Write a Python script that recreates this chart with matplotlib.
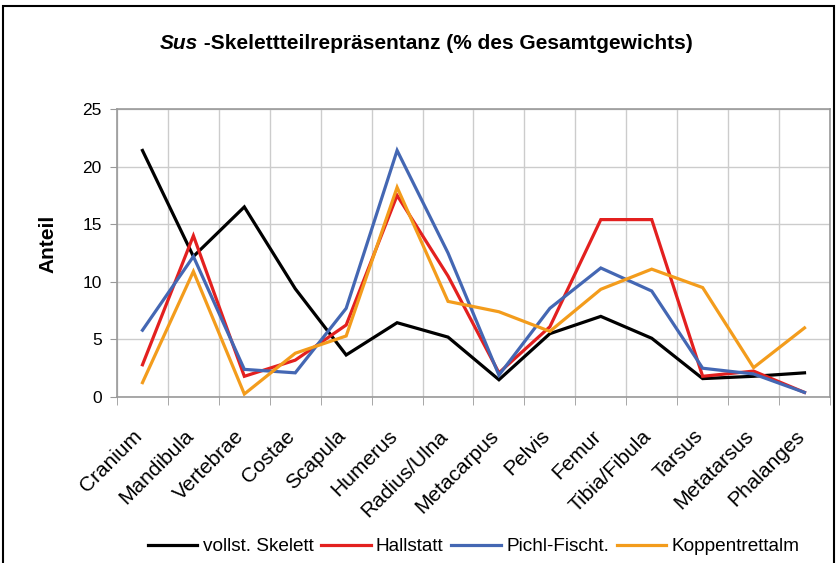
import numpy as np
import matplotlib.pyplot as plt
import matplotlib.transforms as mtransforms
from matplotlib.patches import Rectangle

plt.rcParams['font.family'] = ['Liberation Sans', 'DejaVu Sans']

# categories (skeletal elements)
parts = ["Cranium", "Mandibula", "Vertebrae", "Costae", "Scapula", "Humerus",
         "Radius/Ulna", "Metacarpus", "Pelvis", "Femur", "Tibia/Fibula",
         "Tarsus", "Metatarsus", "Phalanges"]

# share of total weight (%)
skelett = [21.4, 12.2, 16.5, 9.4, 3.65, 6.45, 5.2, 1.5, 5.5, 7.0, 5.1, 1.6, 1.8, 2.1]
hallstatt = [2.8, 14.0, 1.8, 3.2, 6.25, 17.5, 10.5, 2.1, 6.1, 15.4, 15.4, 1.8, 2.25, 0.4]
pichl = [5.8, 12.2, 2.4, 2.1, 7.7, 21.4, 12.5, 1.9, 7.7, 11.2, 9.2, 2.5, 2.0, 0.4]
koppen = [1.25, 10.9, 0.26, 3.8, 5.3, 18.2, 8.3, 7.4, 5.7, 9.35, 11.1, 9.5, 2.55, 6.0]

names = ["vollst. Skelett", "Hallstatt", "Pichl-Fischt.", "Koppentrettalm"]
colors = ["#000000", "#e3201f", "#4467b3", "#f39c1c"]

fig = plt.figure(figsize=(8.37, 5.63), dpi=100)
ax = fig.add_axes([0.1398, 0.2948, 0.8518, 0.5116])

x = np.arange(len(parts))
for vals, name, col in zip([skelett, hallstatt, pichl, koppen], names, colors):
    ax.plot(x, vals, color=col, lw=2.3, label=name, solid_joinstyle='miter')

ax.set_xlim(-0.5, len(parts) - 0.5)
ax.set_ylim(0, 25)
ax.set_yticks([0, 5, 10, 15, 20, 25])
ax.tick_params(axis='y', labelsize=12.5, length=5, color='#999999', pad=6)

# vertical grid on category borders
ax.set_xticks(np.arange(len(parts) + 1) - 0.5, minor=True)
ax.set_xticks(x)
ax.set_xticklabels(parts, rotation=45, ha='right', va='center',
                   rotation_mode='anchor', fontsize=15)
ax.tick_params(axis='x', which='major', length=0, pad=26)
ax.tick_params(axis='x', which='minor', length=6, color='#999999')
shift = mtransforms.ScaledTranslation(-3 / 100, 0, fig.dpi_scale_trans)
for lab in ax.get_xticklabels():
    lab.set_transform(lab.get_transform() + shift)
ax.grid(True, which='minor', axis='x', color='#cccccc', lw=1)
ax.grid(True, which='major', axis='y', color='#cccccc', lw=1)
ax.set_axisbelow(True)
for s in ax.spines.values():
    s.set_color('#999999')
    s.set_linewidth(1.2)

ax.set_ylabel("Anteil", fontsize=15, fontweight='bold')
ax.yaxis.set_label_coords(-0.083, 0.53)

# title: italic genus name followed by the rest
sus = fig.text(0.191, 0.923, "Sus", fontsize=15, fontweight='bold', style='italic',
               ha='left', va='center')
ax.annotate(" -Skelettteilrepräsentanz (% des Gesamtgewichts)", xy=(1, 0.5),
            xycoords=sus, ha='left', va='center', fontsize=15, fontweight='bold')

fig.legend(loc='center', bbox_to_anchor=(0.566, 0.029), ncol=4, frameon=False,
           fontsize=13.7, handlelength=2.6, handletextpad=0.27, columnspacing=0.42)

fig.patches.append(Rectangle((0.003, -0.01), 0.994, 1.0, transform=fig.transFigure,
                             fill=False, edgecolor='black', lw=1.5))

fig.savefig("out.png", dpi=100)
